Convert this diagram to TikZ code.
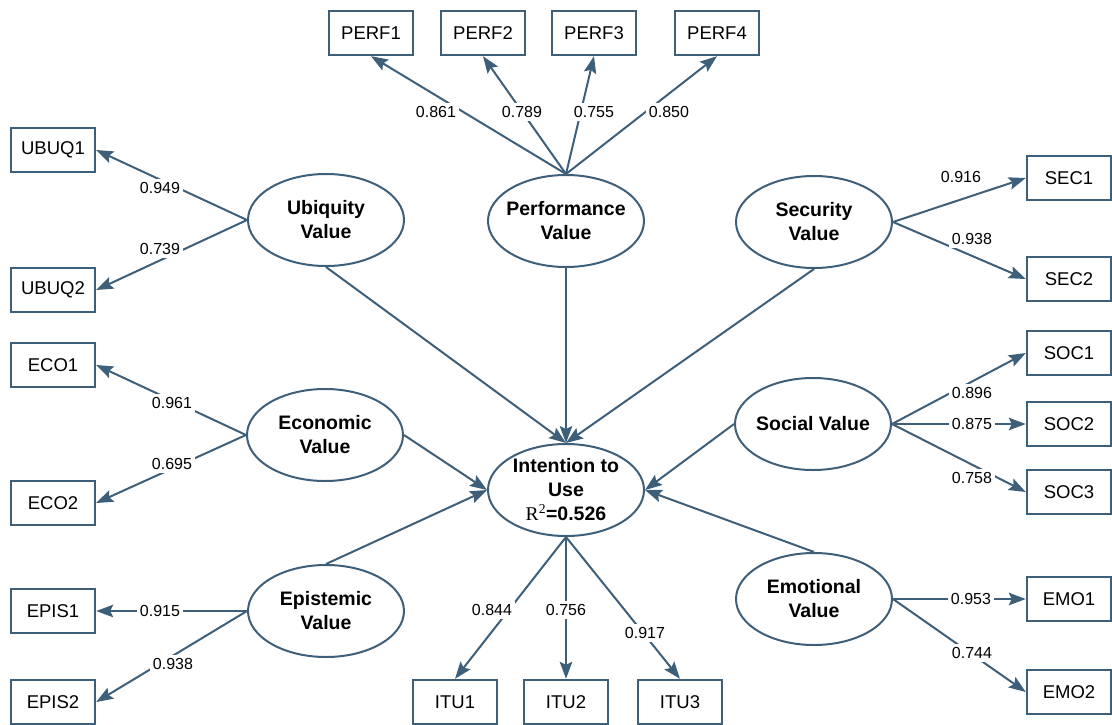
\documentclass[tikz,border=0pt]{standalone}
\usepackage{fontspec}
\setmainfont{Liberation Sans}
\newfontfamily\timesf{Liberation Serif}
\usetikzlibrary{shapes.geometric,arrows.meta}
\definecolor{semblue}{RGB}{62,95,122}
\begin{document}
\begin{tikzpicture}[x=1pt,y=-1pt,
 obs/.style={draw=semblue,line width=2.4pt,rectangle,minimum width=84pt,minimum height=44pt,inner sep=0pt,font=\fontsize{18.5}{22}\selectfont},
 lat/.style={draw=semblue,line width=2pt,ellipse,minimum width=156pt,minimum height=92pt,inner sep=0pt},
 lt/.style={font=\bfseries\fontsize{19.5}{24}\selectfont,align=center,inner sep=0pt},
 ld/.style={fill=white,inner sep=3pt,font=\fontsize{16}{18}\selectfont},
 conn/.style={draw=semblue,line width=2pt,-{Stealth[length=17pt,width=12.5pt,inset=3pt]}},
]
\useasboundingbox (0,0) rectangle (1112,724);

% observed indicators
\node[obs] (perf1) at (371,33) {PERF1};
\node[obs] (perf2) at (483,33) {PERF2};
\node[obs] (perf3) at (594,33) {PERF3};
\node[obs] (perf4) at (717,33) {PERF4};
\node[obs] (ubq1) at (53,150) {UBUQ1};
\node[obs] (ubq2) at (53,290) {UBUQ2};
\node[obs] (eco1) at (53,365) {ECO1};
\node[obs] (eco2) at (53,503) {ECO2};
\node[obs] (epis1) at (53,611) {EPIS1};
\node[obs] (epis2) at (53,702) {EPIS2};
\node[obs] (sec1) at (1069,178) {SEC1};
\node[obs] (sec2) at (1069,279) {SEC2};
\node[obs] (soc1) at (1069,353) {SOC1};
\node[obs] (soc2) at (1069,424) {SOC2};
\node[obs] (soc3) at (1069,492) {SOC3};
\node[obs] (emo1) at (1069,599) {EMO1};
\node[obs] (emo2) at (1069,692) {EMO2};
\node[obs] (itu1) at (455,702) {ITU1};
\node[obs] (itu2) at (566,702) {ITU2};
\node[obs] (itu3) at (680,702) {ITU3};

% latent variables
\node[lat,label={[lt,name=ubqT]center:{Ubiquity\\Value}}] (ubq) at (326,220) {};
\node[lat,label={[lt,name=perfT]center:{Performance\\Value}}] (perf) at (566,221) {};
\node[lat,label={[lt,name=secT]center:{Security\\Value}}] (sec) at (814,222) {};
\node[lat,label={[lt,name=ecoT]center:{Economic\\Value}}] (eco) at (325,435) {};
\node[lat,label={[lt,name=socT]center:{Social Value}}] (soc) at (813,424) {};
\node[lat,label={[lt,name=ituT]center:{Intention to\\Use\\{\timesf\mdseries R\textsuperscript{2}}=0.526}}] (itu) at (566,490) {};
\node[lat,label={[lt,name=episT]center:{Epistemic\\Value}}] (epis) at (326,611) {};
\node[lat,label={[lt,name=emoT]center:{Emotional\\Value}}] (emo) at (814,599) {};

% loadings
\draw[conn] (perf.north) -- (perf1.south);
\draw[conn] (perf.north) -- (perf2.south);
\draw[conn] (perf.north) -- (perf3.south);
\draw[conn] (perf.north) -- (perf4.south);
\draw[conn] (ubq.west) -- (ubq1.east);
\draw[conn] (ubq.west) -- (ubq2.east);
\draw[conn] (eco.west) -- (eco1.east);
\draw[conn] (eco.west) -- (eco2.east);
\draw[conn] (epis.west) -- (epis1.east);
\draw[conn] (epis.west) -- (epis2.east);
\draw[conn] (sec.east) -- (sec1.west);
\draw[conn] (sec.east) -- (sec2.west);
\draw[conn] (soc.east) -- (soc1.west);
\draw[conn] (soc.east) -- (soc2.west);
\draw[conn] (soc.east) -- (soc3.west);
\draw[conn] (emo.east) -- (emo1.west);
\draw[conn] (emo.east) -- (emo2.west);
\draw[conn] (itu.south) -- (itu1.north);
\draw[conn] (itu.south) -- (itu2.north);
\draw[conn] (itu.south) -- (itu3.north);

% structural paths
\draw[conn] (ubq.south) -- (itu.north);
\draw[conn] (perf.south) -- (itu.north);
\draw[conn] (sec.south) -- (itu.north);
\draw[conn] (eco.east) -- (itu.west);
\draw[conn] (epis.north) -- (itu.west);
\draw[conn] (soc.west) -- (itu.east);
\draw[conn] (emo.north) -- (itu.east);

% loading values
\node[ld] (l861) at (436,112) {0.861};
\node[ld] (l789) at (522,112) {0.789};
\node[ld] (l755) at (594,112) {0.755};
\node[ld] (l850) at (669,112) {0.850};
\node[ld] (l949) at (160,188) {0.949};
\node[ld] (l739) at (160,249) {0.739};
\node[ld] (l961) at (172,403) {0.961};
\node[ld] (l695) at (172,464) {0.695};
\node[ld] (l915) at (160,611) {0.915};
\node[ld] (l938a) at (173,664) {0.938};
\node[ld] (l916) at (961,177) {0.916};
\node[ld] (l938b) at (972,239) {0.938};
\node[ld] (l896) at (972,393) {0.896};
\node[ld] (l875) at (972,424) {0.875};
\node[ld] (l758) at (972,478) {0.758};
\node[ld] (l953) at (971,599) {0.953};
\node[ld] (l744) at (972,653) {0.744};
\node[ld] (l844) at (492,610) {0.844};
\node[ld] (l756) at (566,610) {0.756};
\node[ld] (l917) at (645,633) {0.917};
\end{tikzpicture}
\end{document}
